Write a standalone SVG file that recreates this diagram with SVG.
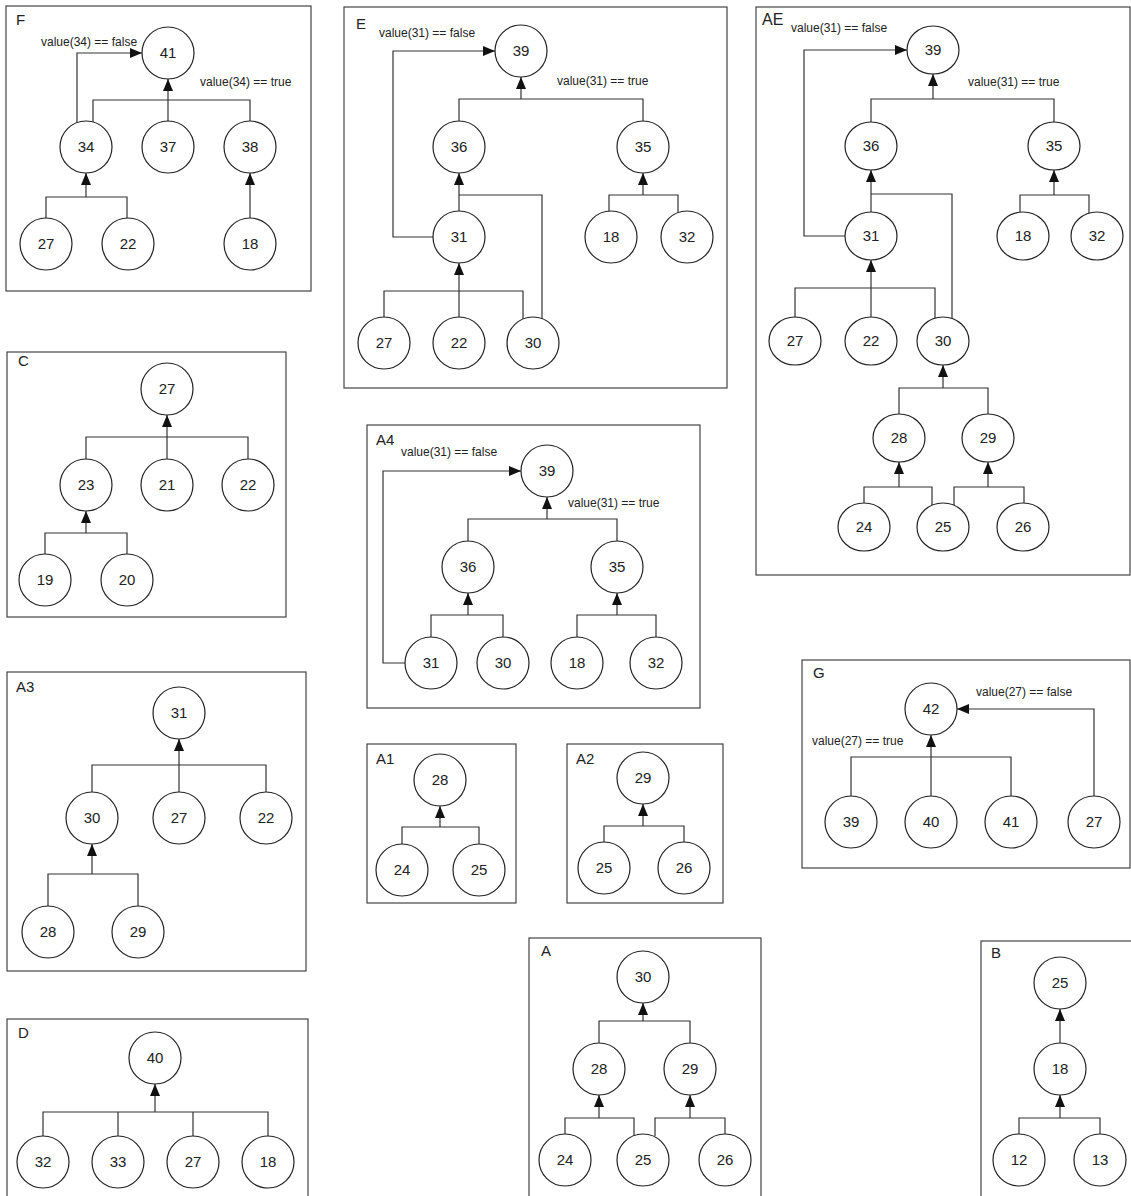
<svg xmlns="http://www.w3.org/2000/svg" width="1131" height="1196" viewBox="0 0 1131 1196">
<style>
.bg{fill:#fff}
.box{fill:none;stroke:#444;stroke-width:1.2}
.node circle,.node ellipse{fill:#fff;stroke:#222;stroke-width:1.2}
.node text{font-family:"Liberation Sans",Arial,sans-serif;font-size:15px;text-anchor:middle;fill:#222}
.ttl{font-family:"Liberation Sans",Arial,sans-serif;font-size:15px;fill:#222}
.lbl{font-family:"Liberation Sans",Arial,sans-serif;font-size:12px;fill:#222}
.edge{fill:none;stroke:#333;stroke-width:1.2}
.arr{marker-end:url(#ah)}
</style>
<defs>
<marker id="ah" viewBox="0 0 12 10" refX="12" refY="5" markerWidth="12" markerHeight="10" markerUnits="userSpaceOnUse" orient="auto"><path d="M0,0 L12,5 L0,10 z" fill="#111"/></marker>
</defs>
<rect class="bg" x="0" y="0" width="1131" height="1196"/>

<!-- Panel F -->
<g id="panel-F">
<rect class="box" x="6" y="6" width="305" height="285"/>
<text class="ttl" x="16" y="25">F</text>
<text class="lbl" x="41" y="46">value(34) == false</text>
<text class="lbl" x="200" y="86">value(34) == true</text>
<g id="F-edges">
<path class="edge" d="M93,122 V100 H250 V121"/>
<path class="edge arr" d="M168,121 V79"/>
<path class="edge arr" d="M77,123 V53 H142"/>
<path class="edge" d="M46,218 V197 H127 V219"/>
<path class="edge arr" d="M86,197 V173"/>
<path class="edge arr" d="M250,218 V173"/>
</g>
<g id="F-41" class="node"><circle cx="168" cy="53" r="26"/><text x="168" y="58">41</text></g>
<g id="F-34" class="node"><circle cx="86" cy="147" r="26"/><text x="86" y="152">34</text></g>
<g id="F-37" class="node"><circle cx="168" cy="147" r="26"/><text x="168" y="152">37</text></g>
<g id="F-38" class="node"><circle cx="250" cy="147" r="26"/><text x="250" y="152">38</text></g>
<g id="F-27" class="node"><circle cx="46" cy="244" r="26"/><text x="46" y="249">27</text></g>
<g id="F-22" class="node"><circle cx="128" cy="244" r="26"/><text x="128" y="249">22</text></g>
<g id="F-18" class="node"><circle cx="250" cy="244" r="26"/><text x="250" y="249">18</text></g>
</g>

<!-- Panel E -->
<g id="panel-E">
<rect class="box" x="344" y="7" width="383" height="381"/>
<text class="ttl" x="356" y="29">E</text>
<text class="lbl" x="379" y="37">value(31) == false</text>
<text class="lbl" x="557" y="85">value(31) == true</text>
<g id="E-edges">
<path class="edge" d="M459,121 V99 H643 V121"/>
<path class="edge arr" d="M521,99 V77"/>
<path class="edge arr" d="M459,211 V173"/>
<path class="edge" d="M459,195 H542 V319"/>
<path class="edge" d="M384,317 V291 H523 V319"/>
<path class="edge arr" d="M459,317 V263"/>
<path class="edge" d="M609,212 V195 H678 V213"/>
<path class="edge arr" d="M643,195 V173"/>
<path class="edge arr" d="M433,237 H393 V51 H495"/>
</g>
<g id="E-39" class="node"><circle cx="521" cy="51" r="26"/><text x="521" y="56">39</text></g>
<g id="E-36" class="node"><circle cx="459" cy="147" r="26"/><text x="459" y="152">36</text></g>
<g id="E-35" class="node"><circle cx="643" cy="147" r="26"/><text x="643" y="152">35</text></g>
<g id="E-31" class="node"><circle cx="459" cy="237" r="26"/><text x="459" y="242">31</text></g>
<g id="E-18" class="node"><circle cx="611" cy="237" r="26"/><text x="611" y="242">18</text></g>
<g id="E-32" class="node"><circle cx="687" cy="237" r="26"/><text x="687" y="242">32</text></g>
<g id="E-27" class="node"><circle cx="384" cy="343" r="26"/><text x="384" y="348">27</text></g>
<g id="E-22" class="node"><circle cx="459" cy="343" r="26"/><text x="459" y="348">22</text></g>
<g id="E-30" class="node"><circle cx="533" cy="343" r="26"/><text x="533" y="348">30</text></g>
</g>

<!-- Panel AE -->
<g id="panel-AE">
<rect class="box" x="756" y="7" width="374" height="568"/>
<text class="ttl" x="762" y="25" style="font-size:16px">AE</text>
<text class="lbl" x="791" y="32">value(31) == false</text>
<text class="lbl" x="968" y="86">value(31) == true</text>
<g id="AE-edges">
<path class="edge" d="M871,122 V99 H1054 V122"/>
<path class="edge arr" d="M933,99 V74"/>
<path class="edge arr" d="M871,212 V170"/>
<path class="edge" d="M871,194 H952 V319"/>
<path class="edge" d="M795,317 V288 H935 V318"/>
<path class="edge arr" d="M871,317 V260"/>
<path class="edge" d="M1020,212 V195 H1089 V213"/>
<path class="edge arr" d="M1054,195 V170"/>
<path class="edge arr" d="M845,236 H804 V50 H907"/>
<path class="edge" d="M899,414 V388 H988 V414"/>
<path class="edge arr" d="M943,388 V365"/>
<path class="edge" d="M864,503 V487 H932 V505"/>
<path class="edge arr" d="M899,487 V462"/>
<path class="edge" d="M954,505 V487 H1024 V503"/>
<path class="edge arr" d="M988,487 V462"/>
</g>
<g id="AE-39" class="node"><ellipse cx="933" cy="50" rx="26" ry="24"/><text x="933" y="55">39</text></g>
<g id="AE-36" class="node"><ellipse cx="871" cy="146" rx="26" ry="24"/><text x="871" y="151">36</text></g>
<g id="AE-35" class="node"><ellipse cx="1054" cy="146" rx="26" ry="24"/><text x="1054" y="151">35</text></g>
<g id="AE-31" class="node"><ellipse cx="871" cy="236" rx="26" ry="24"/><text x="871" y="241">31</text></g>
<g id="AE-18" class="node"><ellipse cx="1023" cy="236" rx="26" ry="24"/><text x="1023" y="241">18</text></g>
<g id="AE-32" class="node"><ellipse cx="1097" cy="236" rx="26" ry="24"/><text x="1097" y="241">32</text></g>
<g id="AE-27" class="node"><ellipse cx="795" cy="341" rx="26" ry="24"/><text x="795" y="346">27</text></g>
<g id="AE-22" class="node"><ellipse cx="871" cy="341" rx="26" ry="24"/><text x="871" y="346">22</text></g>
<g id="AE-30" class="node"><ellipse cx="943" cy="341" rx="26" ry="24"/><text x="943" y="346">30</text></g>
<g id="AE-28" class="node"><ellipse cx="899" cy="438" rx="26" ry="24"/><text x="899" y="443">28</text></g>
<g id="AE-29" class="node"><ellipse cx="988" cy="438" rx="26" ry="24"/><text x="988" y="443">29</text></g>
<g id="AE-24" class="node"><ellipse cx="864" cy="527" rx="26" ry="24"/><text x="864" y="532">24</text></g>
<g id="AE-25" class="node"><ellipse cx="943" cy="527" rx="26" ry="24"/><text x="943" y="532">25</text></g>
<g id="AE-26" class="node"><ellipse cx="1023" cy="527" rx="26" ry="24"/><text x="1023" y="532">26</text></g>
</g>

<!-- Panel C -->
<g id="panel-C">
<rect class="box" x="7" y="352" width="279" height="265"/>
<text class="ttl" x="18" y="366">C</text>
<g id="C-edges">
<path class="edge" d="M86,459 V437 H248 V459"/>
<path class="edge arr" d="M167,459 V415"/>
<path class="edge" d="M45,554 V533 H127 V554"/>
<path class="edge arr" d="M86,533 V511"/>
</g>
<g id="C-27" class="node"><circle cx="167" cy="389" r="26"/><text x="167" y="394">27</text></g>
<g id="C-23" class="node"><circle cx="86" cy="485" r="26"/><text x="86" y="490">23</text></g>
<g id="C-21" class="node"><circle cx="167" cy="485" r="26"/><text x="167" y="490">21</text></g>
<g id="C-22" class="node"><circle cx="248" cy="485" r="26"/><text x="248" y="490">22</text></g>
<g id="C-19" class="node"><circle cx="45" cy="580" r="26"/><text x="45" y="585">19</text></g>
<g id="C-20" class="node"><circle cx="127" cy="580" r="26"/><text x="127" y="585">20</text></g>
</g>

<!-- Panel A3 -->
<g id="panel-A3">
<rect class="box" x="7" y="672" width="299" height="299"/>
<text class="ttl" x="16" y="692">A3</text>
<g id="A3-edges">
<path class="edge" d="M92,792 V765 H266 V792"/>
<path class="edge arr" d="M179,792 V739"/>
<path class="edge" d="M48,906 V874 H138 V906"/>
<path class="edge arr" d="M92,874 V844"/>
</g>
<g id="A3-31" class="node"><circle cx="179" cy="713" r="26"/><text x="179" y="718">31</text></g>
<g id="A3-30" class="node"><circle cx="92" cy="818" r="26"/><text x="92" y="823">30</text></g>
<g id="A3-27" class="node"><circle cx="179" cy="818" r="26"/><text x="179" y="823">27</text></g>
<g id="A3-22" class="node"><circle cx="266" cy="818" r="26"/><text x="266" y="823">22</text></g>
<g id="A3-28" class="node"><circle cx="48" cy="932" r="26"/><text x="48" y="937">28</text></g>
<g id="A3-29" class="node"><circle cx="138" cy="932" r="26"/><text x="138" y="937">29</text></g>
</g>

<!-- Panel D -->
<g id="panel-D">
<rect class="box" x="7" y="1019" width="301" height="190"/>
<text class="ttl" x="18" y="1038">D</text>
<g id="D-edges">
<path class="edge" d="M43,1136 V1112 H268 V1136"/>
<path class="edge" d="M118,1112 V1136"/>
<path class="edge" d="M193,1112 V1136"/>
<path class="edge arr" d="M155,1112 V1084"/>
</g>
<g id="D-40" class="node"><circle cx="155" cy="1058" r="26"/><text x="155" y="1063">40</text></g>
<g id="D-32" class="node"><circle cx="43" cy="1162" r="26"/><text x="43" y="1167">32</text></g>
<g id="D-33" class="node"><circle cx="118" cy="1162" r="26"/><text x="118" y="1167">33</text></g>
<g id="D-27" class="node"><circle cx="193" cy="1162" r="26"/><text x="193" y="1167">27</text></g>
<g id="D-18" class="node"><circle cx="268" cy="1162" r="26"/><text x="268" y="1167">18</text></g>
</g>

<!-- Panel A4 -->
<g id="panel-A4">
<rect class="box" x="367" y="425" width="333" height="283"/>
<text class="ttl" x="376" y="445">A4</text>
<text class="lbl" x="401" y="456">value(31) == false</text>
<text class="lbl" x="568" y="507">value(31) == true</text>
<g id="A4-edges">
<path class="edge" d="M468,541 V519 H617 V541"/>
<path class="edge arr" d="M547,519 V497"/>
<path class="edge" d="M431,637 V615 H503 V637"/>
<path class="edge arr" d="M468,615 V593"/>
<path class="edge" d="M577,637 V615 H656 V637"/>
<path class="edge arr" d="M617,615 V593"/>
<path class="edge arr" d="M405,663 H383 V471 H521"/>
</g>
<g id="A4-39" class="node"><circle cx="547" cy="471" r="26"/><text x="547" y="476">39</text></g>
<g id="A4-36" class="node"><circle cx="468" cy="567" r="26"/><text x="468" y="572">36</text></g>
<g id="A4-35" class="node"><circle cx="617" cy="567" r="26"/><text x="617" y="572">35</text></g>
<g id="A4-31" class="node"><circle cx="431" cy="663" r="26"/><text x="431" y="668">31</text></g>
<g id="A4-30" class="node"><circle cx="503" cy="663" r="26"/><text x="503" y="668">30</text></g>
<g id="A4-18" class="node"><circle cx="577" cy="663" r="26"/><text x="577" y="668">18</text></g>
<g id="A4-32" class="node"><circle cx="656" cy="663" r="26"/><text x="656" y="668">32</text></g>
</g>

<!-- Panel A1 -->
<g id="panel-A1">
<rect class="box" x="367" y="744" width="149" height="159"/>
<text class="ttl" x="376" y="764">A1</text>
<g id="A1-edges">
<path class="edge" d="M402,844 V827 H479 V844"/>
<path class="edge arr" d="M440,827 V806"/>
</g>
<g id="A1-28" class="node"><circle cx="440" cy="780" r="26"/><text x="440" y="785">28</text></g>
<g id="A1-24" class="node"><circle cx="402" cy="870" r="26"/><text x="402" y="875">24</text></g>
<g id="A1-25" class="node"><circle cx="479" cy="870" r="26"/><text x="479" y="875">25</text></g>
</g>

<!-- Panel A2 -->
<g id="panel-A2">
<rect class="box" x="567" y="744" width="156" height="159"/>
<text class="ttl" x="576" y="764">A2</text>
<g id="A2-edges">
<path class="edge" d="M604,842 V826 H684 V842"/>
<path class="edge arr" d="M643,826 V804"/>
</g>
<g id="A2-29" class="node"><circle cx="643" cy="778" r="26"/><text x="643" y="783">29</text></g>
<g id="A2-25" class="node"><circle cx="604" cy="868" r="26"/><text x="604" y="873">25</text></g>
<g id="A2-26" class="node"><circle cx="684" cy="868" r="26"/><text x="684" y="873">26</text></g>
</g>

<!-- Panel G -->
<g id="panel-G">
<rect class="box" x="802" y="660" width="328" height="208"/>
<text class="ttl" x="813" y="678">G</text>
<text class="lbl" x="976" y="696">value(27) == false</text>
<text class="lbl" x="812" y="745">value(27) == true</text>
<g id="G-edges">
<path class="edge" d="M851,796 V757 H1011 V796"/>
<path class="edge arr" d="M931,796 V735"/>
<path class="edge arr" d="M1094,796 V709 H957"/>
</g>
<g id="G-42" class="node"><circle cx="931" cy="709" r="26"/><text x="931" y="714">42</text></g>
<g id="G-39" class="node"><circle cx="851" cy="822" r="26"/><text x="851" y="827">39</text></g>
<g id="G-40" class="node"><circle cx="931" cy="822" r="26"/><text x="931" y="827">40</text></g>
<g id="G-41" class="node"><circle cx="1011" cy="822" r="26"/><text x="1011" y="827">41</text></g>
<g id="G-27" class="node"><circle cx="1094" cy="822" r="26"/><text x="1094" y="827">27</text></g>
</g>

<!-- Panel A -->
<g id="panel-A">
<rect class="box" x="529" y="938" width="232" height="270"/>
<text class="ttl" x="541" y="956">A</text>
<g id="A-edges">
<path class="edge" d="M599,1043 V1021 H690 V1043"/>
<path class="edge arr" d="M643,1021 V1003"/>
<path class="edge" d="M565,1134 V1118 H634 V1136"/>
<path class="edge arr" d="M599,1118 V1095"/>
<path class="edge" d="M655,1136 V1118 H725 V1134"/>
<path class="edge arr" d="M690,1118 V1095"/>
</g>
<g id="A-30" class="node"><circle cx="643" cy="977" r="26"/><text x="643" y="982">30</text></g>
<g id="A-28" class="node"><circle cx="599" cy="1069" r="26"/><text x="599" y="1074">28</text></g>
<g id="A-29" class="node"><circle cx="690" cy="1069" r="26"/><text x="690" y="1074">29</text></g>
<g id="A-24" class="node"><circle cx="565" cy="1160" r="26"/><text x="565" y="1165">24</text></g>
<g id="A-25" class="node"><circle cx="643" cy="1160" r="26"/><text x="643" y="1165">25</text></g>
<g id="A-26" class="node"><circle cx="725" cy="1160" r="26"/><text x="725" y="1165">26</text></g>
</g>

<!-- Panel B -->
<g id="panel-B">
<rect class="box" x="981" y="941" width="170" height="270"/>
<text class="ttl" x="991" y="958">B</text>
<g id="B-edges">
<path class="edge arr" d="M1060,1043 V1009"/>
<path class="edge" d="M1019,1134 V1118 H1100 V1134"/>
<path class="edge arr" d="M1060,1118 V1095"/>
</g>
<g id="B-25" class="node"><circle cx="1060" cy="983" r="26"/><text x="1060" y="988">25</text></g>
<g id="B-18" class="node"><circle cx="1060" cy="1069" r="26"/><text x="1060" y="1074">18</text></g>
<g id="B-12" class="node"><circle cx="1019" cy="1160" r="26"/><text x="1019" y="1165">12</text></g>
<g id="B-13" class="node"><circle cx="1100" cy="1160" r="26"/><text x="1100" y="1165">13</text></g>
</g>
</svg>
